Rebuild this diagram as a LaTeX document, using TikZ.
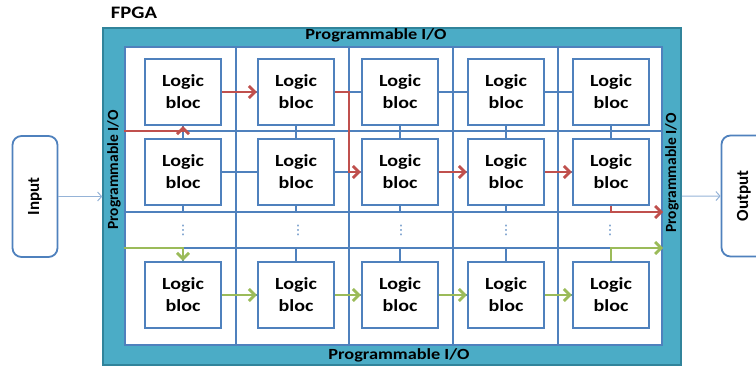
\documentclass[tikz,border=0pt]{standalone}
\usepackage{fontspec}
\setmainfont{Carlito}
\newfontfamily\widefont[FakeStretch=1.18]{Carlito}
\newfontfamily\symfont{DejaVu Sans}
\usetikzlibrary{arrows.meta}

\definecolor{fpgateal}{HTML}{4BACC6}
\definecolor{fpgaedge}{HTML}{31849B}
\definecolor{wireblue}{HTML}{4F81BD}
\definecolor{pathred}{HTML}{C0504D}
\definecolor{pathgreen}{HTML}{9BBB59}
\definecolor{iolight}{HTML}{95B3D7}

\begin{document}
\begin{tikzpicture}[
    x=1pt, y=-1pt,
    lbloc/.style={draw=wireblue, fill=white, line width=2.4pt, minimum width=76pt, minimum height=66pt,
        align=center, font=\widefont\bfseries\fontsize{17}{22}\selectfont},
    wire/.style={wireblue, line width=2.4pt},
    iobox/.style={draw=wireblue, fill=white, line width=1.8pt, rounded corners=9pt, rotate=90,
        minimum width=121pt, minimum height=45pt, font=\bfseries\fontsize{17}{20}\selectfont},
    iolabel/.style={font=\widefont\bfseries\fontsize{15.5}{18}\selectfont},
    vlabel/.style={rotate=90, font=\bfseries\fontsize{15.5}{18}\selectfont},
    redpath/.style={pathred, line width=2.8pt, -{Straight Barb[length=6pt,width=12pt]}},
    greenpath/.style={pathgreen, line width=2.8pt, -{Straight Barb[length=6pt,width=12pt]}},
    ioarrow/.style={iolight, line width=1pt, -{Straight Barb[length=4pt,width=9pt]}},
    dots/.style={wireblue, font=\symfont\fontsize{13}{13}\selectfont, inner sep=0pt},
]
\useasboundingbox (0,0) rectangle (756,367);
\clip (0,0) rectangle (756,367);

% FPGA frame and routing area
\node[draw=fpgaedge, fill=fpgateal, line width=1.5pt, minimum width=578pt, minimum height=337pt] (fpga) at (392,196.5) {};
\node[draw=wireblue, fill=white, line width=2.4pt, minimum width=537pt, minimum height=298pt] (core) at (393.5,196) {};
\node[font=\widefont\bfseries\fontsize{17.5}{20}\selectfont] (title) at (134,13) {FPGA};

% I/O labels on the frame
\node[iolabel] (iotop) at (376,35) {Programmable I/O};
\node[iolabel] (iobot) at (399,355) {Programmable I/O};
\node[vlabel] (ioleft) at (114,170) {Programmable I/O};
\node[vlabel] (ioright) at (672,173) {Programmable I/O};

% Input and output
\node[iobox] (input) at (35,196.5) {Input};
\node[iobox] (output) at (744,196) {Output};
\draw[ioarrow] (input) -- (fpga);
\draw[ioarrow] (fpga) -- (output);

% routing channels
\coordinate (v1) at (236,0);
\coordinate (v2) at (349,0);
\coordinate (v3) at (453,0);
\coordinate (v4) at (558,0);
\coordinate (h1) at (0,131);
\coordinate (h2) at (0,212);
\coordinate (h3) at (0,248);
\draw[wire] (v1 |- core.north)--(v1 |- core.south) (v2 |- core.north)--(v2 |- core.south)
    (v3 |- core.north)--(v3 |- core.south) (v4 |- core.north)--(v4 |- core.south);
\draw[wire] (h1 -| core.west)--(h1 -| core.east) (h2 -| core.west)--(h2 -| core.east)
    (h3 -| core.west)--(h3 -| core.east);

% ================================================================
% Logic blocs: rows 1, 2 and last row
% ================================================================
\node[lbloc] (b11) at (183,92) {Logic\\bloc};
\node[lbloc] (b12) at (296,92) {Logic\\bloc};
\node[lbloc] (b13) at (400,92) {Logic\\bloc};
\node[lbloc] (b14) at (506,92) {Logic\\bloc};
\node[lbloc] (b15) at (611,92) {Logic\\bloc};

\node[lbloc] (b21) at (183,172) {Logic\\bloc};
\node[lbloc] (b22) at (296,172) {Logic\\bloc};
\node[lbloc] (b23) at (400,172) {Logic\\bloc};
\node[lbloc] (b24) at (506,172) {Logic\\bloc};
\node[lbloc] (b25) at (611,172) {Logic\\bloc};

\node[lbloc] (b31) at (183,295) {Logic\\bloc};
\node[lbloc] (b32) at (296,295) {Logic\\bloc};
\node[lbloc] (b33) at (400,295) {Logic\\bloc};
\node[lbloc] (b34) at (506,295) {Logic\\bloc};
\node[lbloc] (b35) at (611,295) {Logic\\bloc};

% bloc to channel links
\draw[wire] (b11.east)--(b12.west) (b12.east)--(b13.west) (b13.east)--(b14.west) (b14.east)--(b15.west);
\draw[wire] (b21.east)--(b22.west) (b22.east)--(b23.west) (b23.east)--(b24.west) (b24.east)--(b25.west);
\draw[wire] (b31.east)--(b32.west) (b32.east)--(b33.west) (b33.east)--(b34.west) (b34.east)--(b35.west);
\draw[wire] (b11.south)--(b21.north) (b12.south)--(b22.north) (b13.south)--(b23.north)
    (b14.south)--(b24.north) (b15.south)--(b25.north);
\draw[wire] (b21.south)--(b21.south |- h2) (b22.south)--(b22.south |- h2) (b23.south)--(b23.south |- h2)
    (b24.south)--(b24.south |- h2) (b25.south)--(b25.south |- h2);
\draw[wire] (b31.north)--(b31.north |- h3) (b32.north)--(b32.north |- h3) (b33.north)--(b33.north |- h3)
    (b34.north)--(b34.north |- h3) (b35.north)--(b35.north |- h3);

% skipped rows
\node[dots] (d1) at (183,230) {⋮};
\node[dots] (d2) at (298,230) {⋮};
\node[dots] (d3) at (401,230) {⋮};
\node[dots] (d4) at (506,230) {⋮};
\node[dots] (d5) at (610,230) {⋮};

% red signal path
\draw[redpath] (h1 -| core.west) -- (h1 -| b11.south) -- (b11.south);
\draw[redpath] (b11.east) -- (b12.west);
\draw[redpath] (b12.east) -- (b12.east -| v2) -- (b23.west -| v2) -- (b23.west);
\draw[redpath] (b23.east) -- (b24.west);
\draw[redpath] (b24.east) -- (b25.west);
\draw[redpath] (b25.south) -- (b25.south |- h2) -- (h2 -| core.east);

% green signal path
\draw[greenpath] (h3 -| core.west) -- (h3 -| b31.north) -- (b31.north);
\draw[greenpath] (b31.east) -- (b32.west);
\draw[greenpath] (b32.east) -- (b33.west);
\draw[greenpath] (b33.east) -- (b34.west);
\draw[greenpath] (b34.east) -- (b35.west);
\draw[greenpath] (b35.north) -- (b35.north |- h3) -- (h3 -| core.east);

\end{tikzpicture}
\end{document}
